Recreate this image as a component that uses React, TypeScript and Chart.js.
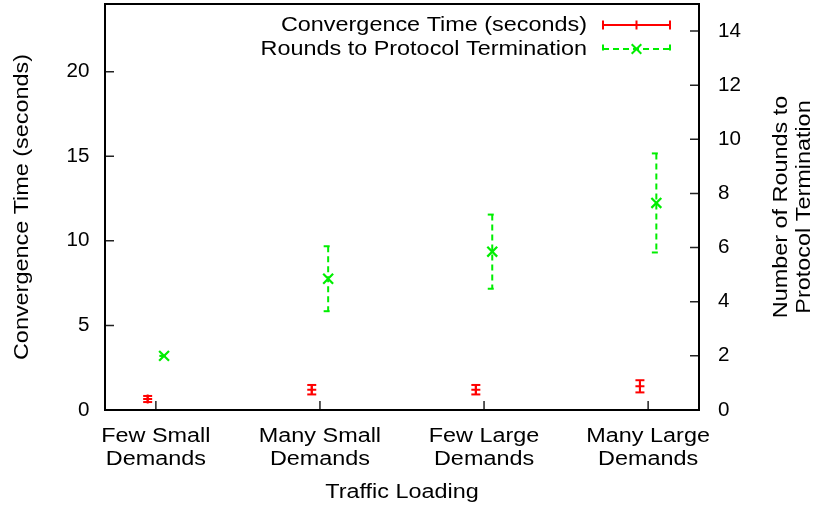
import { useEffect, useRef } from 'react';
import { Chart, registerables } from 'chart.js';

Chart.register(...registerables);

// Traffic scenarios, one per x position (two-line labels)
const CATEGORIES: string[][] = [
  ['Few Small', 'Demands'],
  ['Many Small', 'Demands'],
  ['Few Large', 'Demands'],
  ['Many Large', 'Demands'],
];

// Convergence time in seconds (left axis) with its error half-widths
const CONV_TIME = [0.65, 1.2, 1.2, 1.4];
const CONV_TIME_ERR = [0.18, 0.28, 0.28, 0.36];

// Rounds needed before the protocol terminates (right axis) with error half-widths
const ROUNDS = [2.0, 4.85, 5.85, 7.65];
const ROUNDS_ERR = [0, 1.2, 1.37, 1.83];

const LEFT_TICKS = [0, 5, 10, 15, 20];
const RIGHT_TICKS = [0, 2, 4, 6, 8, 10, 12, 14];

const SERIES_NAMES = ['Convergence Time (seconds)', 'Rounds to Protocol Termination'];
const X_TITLE = 'Traffic Loading';
const LEFT_TITLE = 'Convergence Time (seconds)';
const RIGHT_TITLE = ['Number of Rounds to', 'Protocol Termination'];

const FAMILY = '"Liberation Sans", Arial, Helvetica, sans-serif';
const FONT_SIZE = 20;
const WIDE = 1.17; // horizontal stretch for word labels
const NUM_WIDE = 1.03; // horizontal stretch for tick numbers
const RED = '#ff0000';
const GREEN = '#00ee00';
const DASH = [6, 4];
const SHIFT = 0.05; // horizontal nudge so the two series do not overlap
const CAP = 4.5;

function drawLabel(
  ctx: CanvasRenderingContext2D,
  text: string,
  x: number,
  y: number,
  align: CanvasTextAlign,
  baseline: CanvasTextBaseline,
  sx: number,
  rot = 0,
) {
  ctx.save();
  ctx.translate(x, y);
  if (rot) ctx.rotate(rot);
  ctx.scale(sx, 1);
  ctx.textAlign = align;
  ctx.textBaseline = baseline;
  ctx.fillText(text, 0, 0);
  ctx.restore();
}

const zeroPadding = (s: any) => {
  s.paddingTop = 0;
  s.paddingBottom = 0;
  s.paddingLeft = 0;
  s.paddingRight = 0;
};

const plotDecor = {
  id: 'plotDecor',
  beforeDatasetsDraw(chart: any) {
    const ctx = chart.ctx as CanvasRenderingContext2D;
    const xs = chart.scales.x;
    chart.data.datasets.forEach((ds: any) => {
      const ys = chart.scales[ds.yAxisID];
      ctx.save();
      ctx.strokeStyle = ds.errColor;
      ctx.lineWidth = 2;
      ctx.setLineDash(ds.errDash);
      ds.data.forEach((p: { x: number; y: number }, i: number) => {
        const err = ds.errors[i];
        const px = xs.getPixelForValue(p.x);
        const top = ys.getPixelForValue(p.y + err);
        const bot = ys.getPixelForValue(p.y - err);
        ctx.beginPath();
        ctx.moveTo(px, top);
        ctx.lineTo(px, bot);
        ctx.stroke();
        ctx.beginPath();
        ctx.moveTo(px - CAP, top);
        ctx.lineTo(px + CAP, top);
        ctx.stroke();
        ctx.beginPath();
        ctx.moveTo(px - CAP, bot);
        ctx.lineTo(px + CAP, bot);
        ctx.stroke();
      });
      ctx.restore();
    });
  },
  afterDatasetsDraw(chart: any) {
    const ctx = chart.ctx as CanvasRenderingContext2D;
    const { left, right, top, bottom } = chart.chartArea;
    const xs = chart.scales.x;
    const yl = chart.scales.y;
    const yr = chart.scales.y1;
    const TL = 9;
    ctx.save();
    ctx.strokeStyle = '#222';
    ctx.lineWidth = 1.5;
    ctx.beginPath();
    yl.ticks.forEach((t: any) => {
      const py = yl.getPixelForValue(t.value);
      ctx.moveTo(left, py);
      ctx.lineTo(left + TL, py);
    });
    yr.ticks.forEach((t: any) => {
      const py = yr.getPixelForValue(t.value);
      ctx.moveTo(right, py);
      ctx.lineTo(right - TL, py);
    });
    xs.ticks.forEach((t: any) => {
      const px = xs.getPixelForValue(t.value);
      ctx.moveTo(px, bottom);
      ctx.lineTo(px, bottom - TL);
    });
    ctx.stroke();
    ctx.strokeStyle = '#000';
    ctx.lineWidth = 2;
    ctx.strokeRect(left, top, right - left, bottom - top);
    ctx.restore();
  },
  afterDraw(chart: any) {
    const ctx = chart.ctx as CanvasRenderingContext2D;
    const { left, right, top, bottom } = chart.chartArea;
    const xs = chart.scales.x;
    const yl = chart.scales.y;
    const yr = chart.scales.y1;
    ctx.save();
    ctx.font = `${FONT_SIZE}px ${FAMILY}`;
    ctx.fillStyle = '#000';

    // tick numbers
    yl.ticks.forEach((t: any) => {
      drawLabel(ctx, String(t.value), left - 15.5, yl.getPixelForValue(t.value), 'right', 'middle', NUM_WIDE);
    });
    yr.ticks.forEach((t: any) => {
      drawLabel(ctx, String(t.value), right + 19, yr.getPixelForValue(t.value), 'left', 'middle', NUM_WIDE);
    });
    // category labels
    xs.ticks.forEach((t: any) => {
      const lines = CATEGORIES[Math.round(t.value)] || [];
      const px = xs.getPixelForValue(t.value);
      lines.forEach((line, i) => drawLabel(ctx, line, px, bottom + 32 + i * 23, 'center', 'alphabetic', WIDE));
    });
    // axis titles
    const cy = (top + bottom) / 2;
    drawLabel(ctx, X_TITLE, (left + right) / 2, 498, 'center', 'alphabetic', WIDE);
    drawLabel(ctx, LEFT_TITLE, 28, cy, 'center', 'alphabetic', WIDE, -Math.PI / 2);
    const baselines = [787, 810];
    RIGHT_TITLE.forEach((line, i) => drawLabel(ctx, line, baselines[i], cy, 'center', 'alphabetic', WIDE, -Math.PI / 2));

    // key, top right
    const textRight = 587;
    const x0 = 603;
    const x1 = 670;
    const xm = (x0 + x1) / 2;
    const rows = [31, 55];
    SERIES_NAMES.forEach((name, i) => drawLabel(ctx, name, textRight, rows[i], 'right', 'alphabetic', WIDE));

    ctx.lineWidth = 2;
    let ly = 25;
    ctx.strokeStyle = RED;
    ctx.beginPath();
    ctx.moveTo(x0, ly);
    ctx.lineTo(x1, ly);
    ctx.moveTo(x0, ly - CAP);
    ctx.lineTo(x0, ly + CAP);
    ctx.moveTo(x1, ly - CAP);
    ctx.lineTo(x1, ly + CAP);
    ctx.moveTo(xm, ly - CAP);
    ctx.lineTo(xm, ly + CAP);
    ctx.stroke();

    ly = 49;
    ctx.strokeStyle = GREEN;
    ctx.setLineDash(DASH);
    ctx.beginPath();
    ctx.moveTo(x0, ly);
    ctx.lineTo(x1, ly);
    ctx.stroke();
    ctx.beginPath();
    ctx.moveTo(x0, ly - CAP);
    ctx.lineTo(x0, ly + CAP);
    ctx.moveTo(x1, ly - CAP);
    ctx.lineTo(x1, ly + CAP);
    ctx.stroke();
    ctx.setLineDash([]);
    const d = 4.8;
    ctx.beginPath();
    ctx.moveTo(xm - d, ly - d);
    ctx.lineTo(xm + d, ly + d);
    ctx.moveTo(xm - d, ly + d);
    ctx.lineTo(xm + d, ly - d);
    ctx.stroke();
    ctx.restore();
  },
};

export default function App() {
  const canvasRef = useRef<HTMLCanvasElement | null>(null);

  useEffect(() => {
    const canvas = canvasRef.current;
    if (!canvas) return;

    const chart = new Chart(canvas, {
      type: 'scatter',
      data: {
        datasets: [
          {
            label: SERIES_NAMES[0],
            data: CONV_TIME.map((v, i) => ({ x: i - SHIFT, y: v })),
            yAxisID: 'y',
            pointStyle: 'cross',
            pointRadius: 4.5,
            pointBorderWidth: 2,
            borderColor: RED,
            backgroundColor: RED,
            errors: CONV_TIME_ERR,
            errColor: RED,
            errDash: [],
          } as any,
          {
            label: SERIES_NAMES[1],
            data: ROUNDS.map((v, i) => ({ x: i + SHIFT, y: v })),
            yAxisID: 'y1',
            pointStyle: 'crossRot',
            pointRadius: 7,
            pointBorderWidth: 2.2,
            borderColor: GREEN,
            backgroundColor: GREEN,
            errors: ROUNDS_ERR,
            errColor: GREEN,
            errDash: DASH,
          } as any,
        ],
      },
      options: {
        animation: false,
        responsive: false,
        devicePixelRatio: 1,
        events: [],
        layout: { autoPadding: false, padding: { top: 4, left: 0, right: 0, bottom: 0 } },
        plugins: {
          legend: { display: false },
          tooltip: { enabled: false },
        },
        scales: {
          x: {
            type: 'linear',
            min: -0.31,
            max: 3.31,
            grid: { display: false, drawTicks: false },
            border: { display: false },
            ticks: { display: false },
            afterBuildTicks: (s: any) => {
              s.ticks = CATEGORIES.map((_, i) => ({ value: i }));
            },
            afterFit: (s: any) => {
              s.height = 99;
              zeroPadding(s);
            },
          },
          y: {
            type: 'linear',
            position: 'left',
            min: 0,
            max: 24,
            grid: { display: false, drawTicks: false },
            border: { display: false },
            ticks: { display: false },
            afterBuildTicks: (s: any) => {
              s.ticks = LEFT_TICKS.map((v) => ({ value: v }));
            },
            afterFit: (s: any) => {
              s.width = 105;
              zeroPadding(s);
            },
          },
          y1: {
            type: 'linear',
            position: 'right',
            min: 0,
            max: 15,
            grid: { display: false, drawTicks: false },
            border: { display: false },
            ticks: { display: false },
            afterBuildTicks: (s: any) => {
              s.ticks = RIGHT_TICKS.map((v) => ({ value: v }));
            },
            afterFit: (s: any) => {
              s.width = 118;
              zeroPadding(s);
            },
          },
        },
      },
      plugins: [plotDecor],
    });

    return () => chart.destroy();
  }, []);

  return (
    <div style={{ position: 'fixed', left: 0, top: 0, width: 817, height: 509, background: '#fff' }}>
      <canvas ref={canvasRef} width={817} height={509} style={{ display: 'block' }} />
    </div>
  );
}
